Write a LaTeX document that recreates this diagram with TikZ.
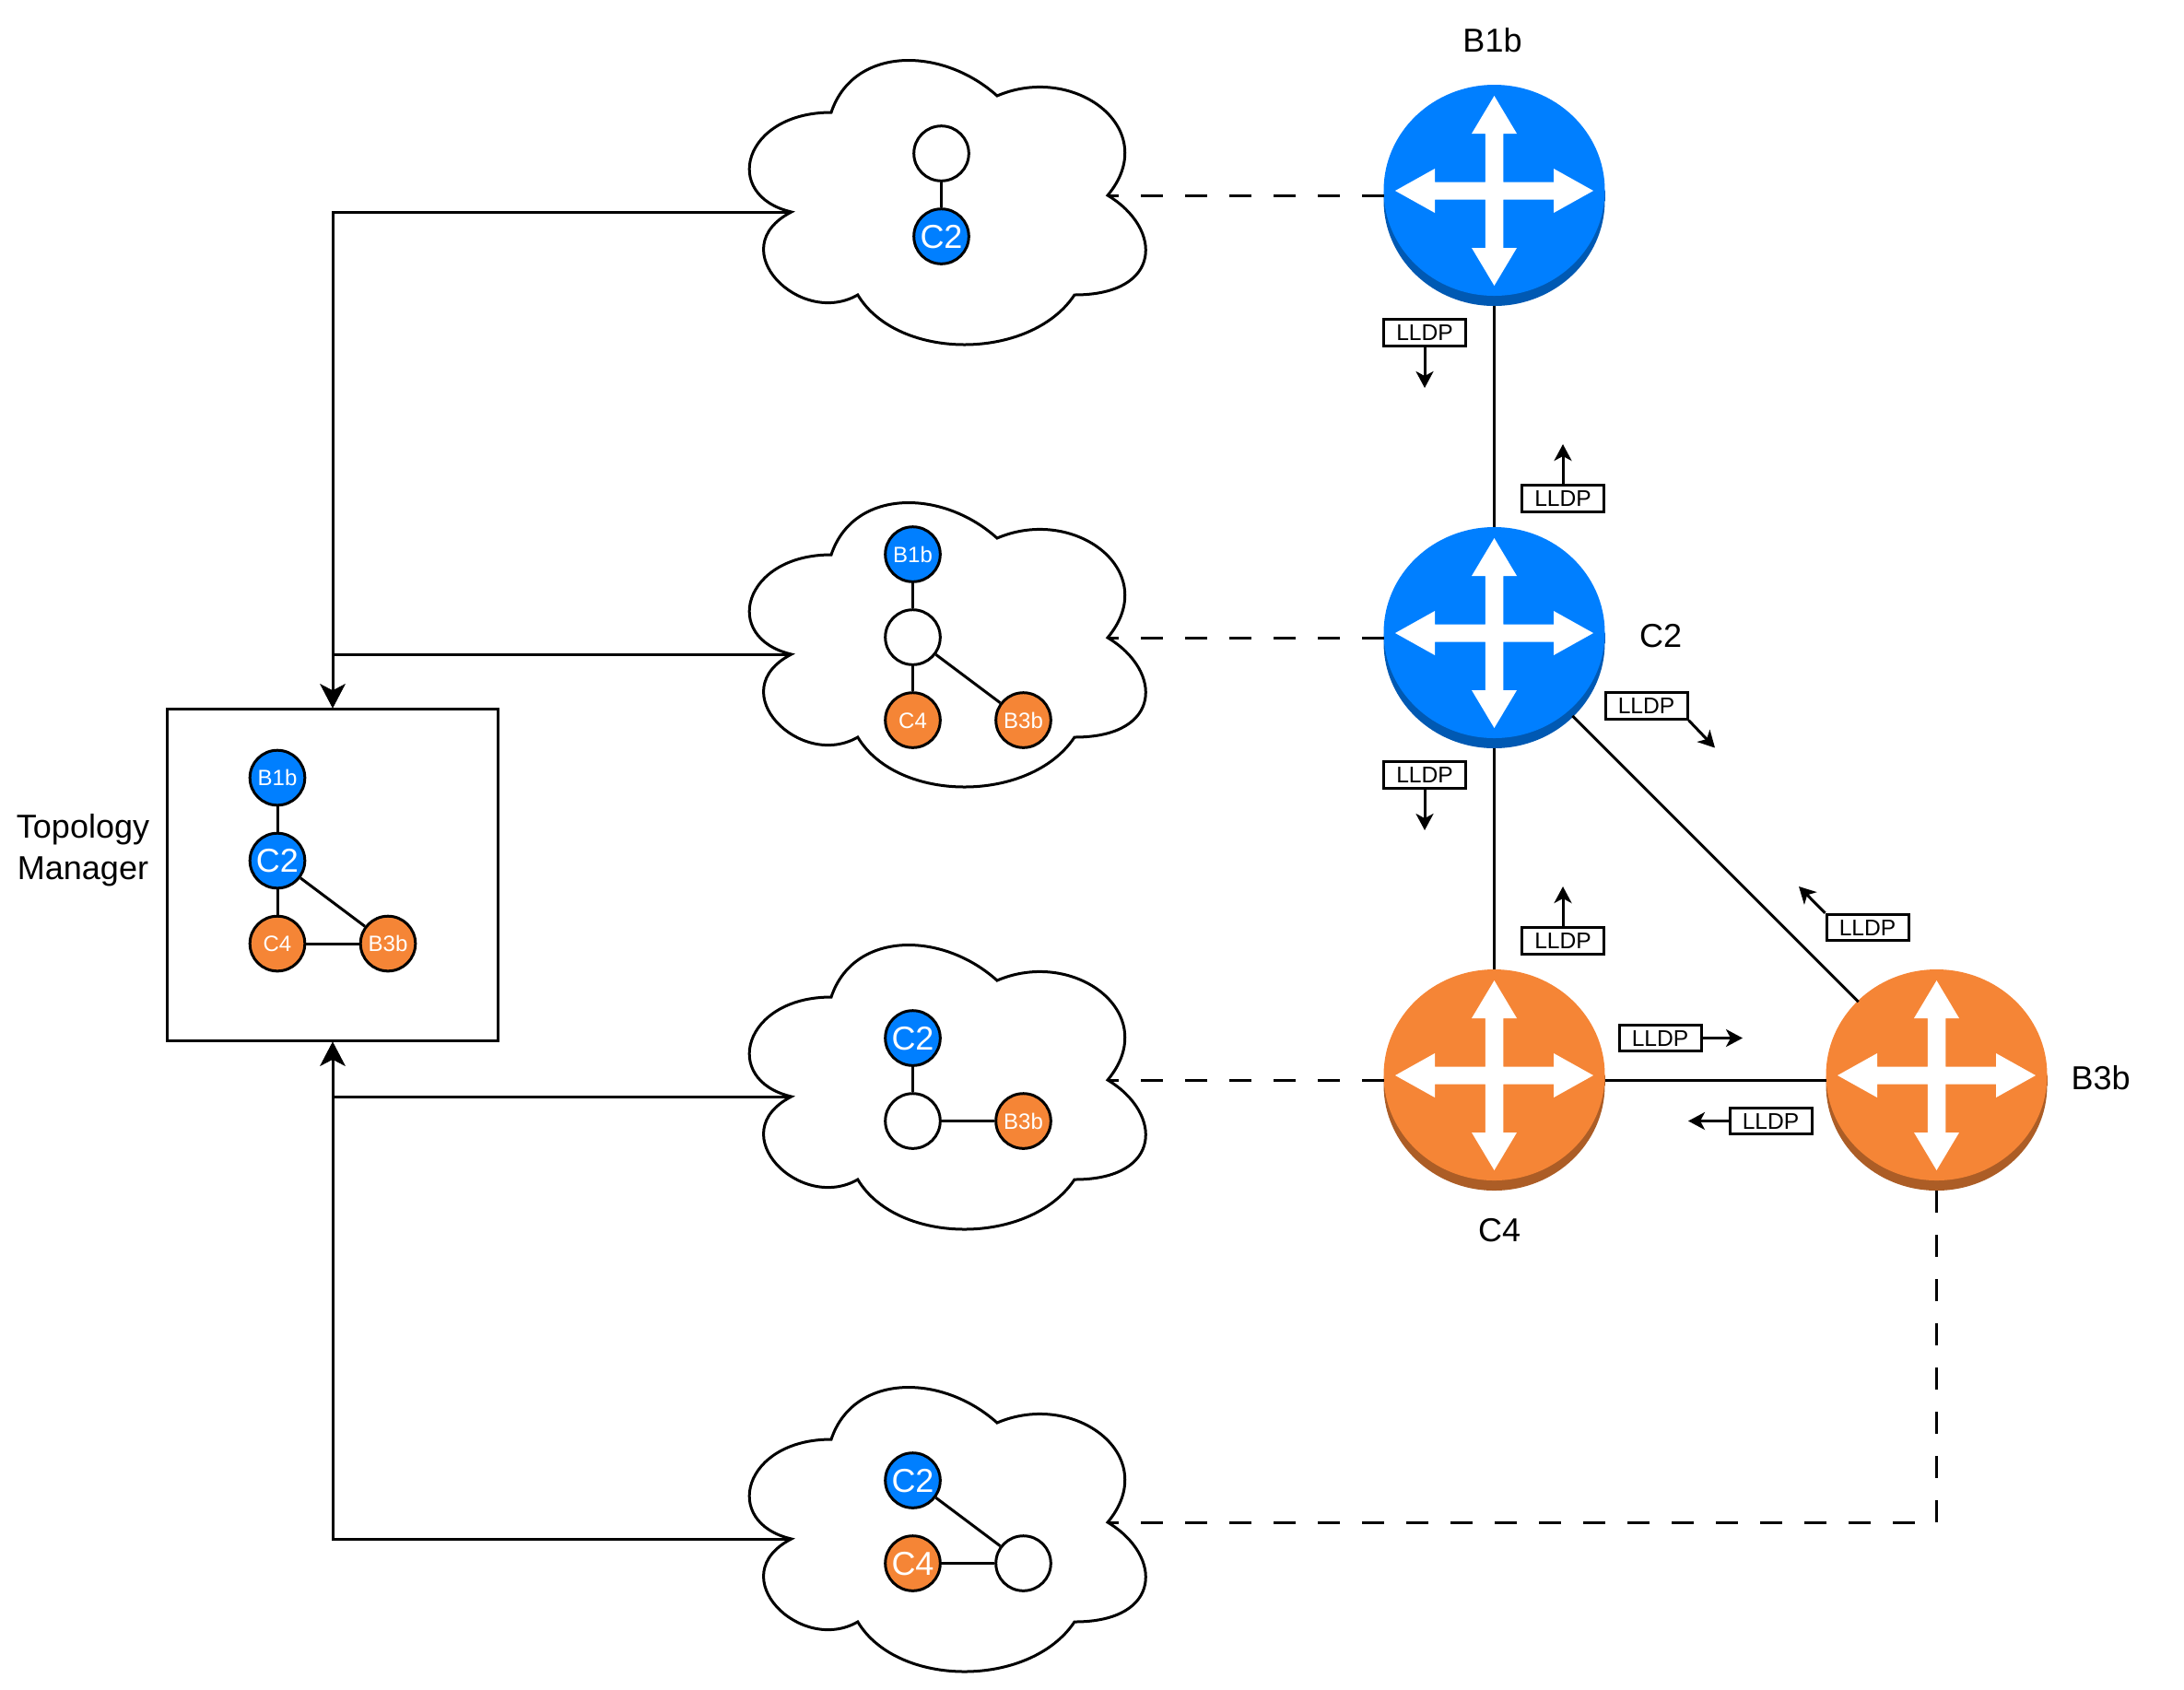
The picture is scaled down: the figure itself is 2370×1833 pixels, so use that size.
\documentclass[tikz,border=0pt]{standalone}
\usepackage{fontspec}
\setmainfont{Liberation Sans}
\usetikzlibrary{arrows.meta}
\definecolor{bluea}{HTML}{007FFF}
\definecolor{blueb}{HTML}{0059B3}
\definecolor{orangea}{HTML}{F58536}
\definecolor{orangeb}{HTML}{AC5D26}
\tikzset{
  ln/.style={line width=1.5pt,black},
  dash24/.style={ln,dash pattern=on 12pt off 12pt},
  bigflow/.style={ln,-{Stealth[length=13pt,width=13.5pt,inset=3.5pt]}},
  smallflow/.style={ln,-{Stealth[length=9pt,width=9.5pt,inset=2.5pt]}},
  txtbig/.style={font=\fontsize{18}{22.5}\selectfont,inner sep=0pt},
  dot/.style={circle,draw=black,line width=1.5pt,minimum size=29.8pt,inner sep=0pt,text=white,text depth=0pt},
  dotbig/.style={dot,font=\fontsize{18}{20}\selectfont,text height=12.9pt},
  dotsmall/.style={dot,font=\fontsize{12}{14}\selectfont,text height=8.6pt},
  blank/.style={dot,fill=white},
  lldp/.style={draw=black,line width=1.5pt,fill=white,minimum width=44.5pt,minimum height=14.2pt,inner sep=0pt,font=\fontsize{12.3}{14}\selectfont,text height=8.8pt,text depth=0pt},
  routerhit/.style={circle,minimum size=120pt,inner sep=0pt,outer sep=0pt},
  tmbox/.style={draw=black,line width=1.5pt,minimum size=179.6pt,inner sep=0pt},
}
\newcommand{\cloudat}[3]{%
  \begin{scope}[shift={(#2,#3)}]
    \draw[ln,fill=white,line join=miter]
      (120,90) .. controls (24,90) and (0,180) .. (76.8,198)
      .. controls (0,237.6) and (86.4,324) .. (148.8,288)
      .. controls (192,360) and (336,360) .. (384,288)
      .. controls (480,288) and (480,216) .. (420,180)
      .. controls (480,108) and (384,36) .. (300,72)
      .. controls (240,18) and (144,18) .. (120,90) -- cycle;
    \coordinate (#1l) at (76.8,198);
    \coordinate (#1r) at (420,180);
  \end{scope}}
\newcommand{\routerat}[5]{%
  \begin{scope}[shift={(#2,#3)}]
    \fill[#5] (0,5.5) ellipse [x radius=120,y radius=114.5];
    \fill[#5] (-120,-5.5) rectangle (120,5.5);
    \fill[#4] (0,-5.5) ellipse [x radius=120,y radius=114.5];
    \fill[white] (0,-108) -- (24.5,-67) -- (9.75,-67) -- (9.75,-14.5)
      -- (64.5,-14.5) -- (64.5,-29) -- (107.5,-5) -- (64.5,19) -- (64.5,4.5)
      -- (9.75,4.5) -- (9.75,57) -- (24.5,57) -- (0,98) -- (-24.5,57) -- (-9.75,57)
      -- (-9.75,4.5) -- (-64.5,4.5) -- (-64.5,19) -- (-107.5,-5) -- (-64.5,-29)
      -- (-64.5,-14.5) -- (-9.75,-14.5) -- (-9.75,-67) -- (-24.5,-67) -- cycle;
    \node[routerhit] (#1) at (0,0) {};
  \end{scope}}
\begin{document}
\begin{tikzpicture}[x=0.5pt,y=-0.5pt]
\useasboundingbox (0,0) rectangle (2370,1833);
% clouds
\cloudat{ca}{782}{32}
\cloudat{cb}{782}{512}
\cloudat{cc}{782}{992}
\cloudat{cd}{782}{1472}
% topology manager
\node[tmbox] (tm) at (361,949.5) {};
\node[txtbig,align=center] (tmlabel) at (90,922.5) {Topology\\Manager};
\node[dot,dotsmall,fill=bluea] (tb1) at (301,844) {B1b};
\node[dot,dotbig,fill=bluea] (tc2) at (301,934) {C2};
\node[dot,dotsmall,fill=orangea] (tc4) at (301,1024) {C4};
\node[dot,dotsmall,fill=orangea] (tb3) at (421,1024) {B3b};
\draw[ln] (tb1) -- (tc2);
\draw[ln] (tc2) -- (tc4);
\draw[ln] (tc2) -- (tb3);
\draw[ln] (tc4) -- (tb3);
% cloud A
\node[blank] (a0) at (1021.5,166.5) {};
\node[dot,dotbig,fill=bluea] (a1) at (1021.5,256.5) {C2};
\draw[ln] (a0) -- (a1);
% cloud B
\node[dot,dotsmall,fill=bluea] (b1) at (990.5,601.5) {B1b};
\node[blank] (b0) at (990.5,691.5) {};
\node[dot,dotsmall,fill=orangea] (b2) at (990.5,781.5) {C4};
\node[dot,dotsmall,fill=orangea] (b3) at (1110.5,781.5) {B3b};
\draw[ln] (b1) -- (b0);
\draw[ln] (b0) -- (b2);
\draw[ln] (b0) -- (b3);
% cloud C
\node[dot,dotbig,fill=bluea] (c1) at (990.5,1126.5) {C2};
\node[blank] (c0) at (990.5,1216.5) {};
\node[dot,dotsmall,fill=orangea] (c2) at (1110.5,1216.5) {B3b};
\draw[ln] (c1) -- (c0);
\draw[ln] (c0) -- (c2);
% cloud D
\node[dot,dotbig,fill=bluea] (d1) at (990.5,1606.5) {C2};
\node[dot,dotbig,fill=orangea] (d2) at (990.5,1696.5) {C4};
\node[blank] (d0) at (1110.5,1696.5) {};
\draw[ln] (d1) -- (d0);
\draw[ln] (d2) -- (d0);
% controllers to manager
\draw[bigflow] (cal) -| (tm.north);
\draw[bigflow] (cbl) -| (tm.north);
\draw[bigflow] (ccl) -| (tm.south);
\draw[bigflow] (cdl) -| (tm.south);
% routers
\routerat{rb1}{1621.5}{212}{bluea}{blueb}
\routerat{rc2}{1621.5}{692}{bluea}{blueb}
\routerat{rc4}{1621.5}{1172}{orangea}{orangeb}
\routerat{rb3}{2101.5}{1172}{orangea}{orangeb}
\node[txtbig] (lb1) at (1619.5,44) {B1b};
\node[txtbig] (lc2) at (1802,690) {C2};
\node[txtbig] (lc4) at (1627,1335) {C4};
\node[txtbig] (lb3) at (2279.5,1170) {B3b};
\draw[ln] (rb1) -- (rc2);
\draw[ln] (rc2) -- (rc4);
\draw[ln] (rc2) -- (rb3);
\draw[ln] (rc4) -- (rb3);
% dashed management links
\draw[dash24] (rb1.west) -- (car);
\draw[dash24] (rc2.west) -- (cbr);
\draw[dash24] (rc4.west) -- (ccr);
\draw[dash24] (rb3.south) |- (cdr);
% LLDP
\node[lldp] (p1) at (1546,361) {LLDP};
\coordinate (q1) at (1546,421);
\draw[smallflow] (p1.south) -- (q1);
\node[lldp] (p2) at (1696,541) {LLDP};
\coordinate (q2) at (1696,482);
\draw[smallflow] (p2.north) -- (q2);
\node[lldp] (p3) at (1546,841) {LLDP};
\coordinate (q3) at (1546,901);
\draw[smallflow] (p3.south) -- (q3);
\node[lldp] (p4) at (1696,1021) {LLDP};
\coordinate (q4) at (1696,962);
\draw[smallflow] (p4.north) -- (q4);
\node[lldp] (p5) at (1786.5,766) {LLDP};
\coordinate (q5) at (1861,811.5);
\draw[smallflow] (p5.south east) -- (q5);
\node[lldp] (p6) at (2026.5,1006.5) {LLDP};
\coordinate (q6) at (1952,962);
\draw[smallflow] (p6.north west) -- (q6);
\node[lldp] (p7) at (1801.5,1126.5) {LLDP};
\coordinate (q7) at (1891,1126.5);
\draw[smallflow] (p7.east) -- (q7);
\node[lldp] (p8) at (1921.5,1216.5) {LLDP};
\coordinate (q8) at (1832,1216.5);
\draw[smallflow] (p8.west) -- (q8);
\end{tikzpicture}
\end{document}
